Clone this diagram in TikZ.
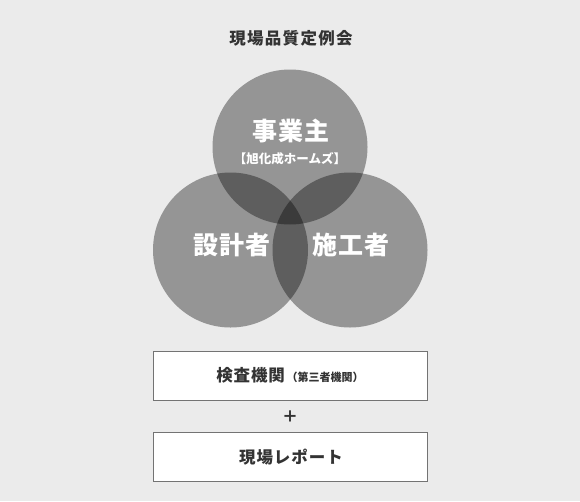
\documentclass[tikz,border=0pt]{standalone}
\usepackage{fontspec}
\setmainfont{Noto Sans CJK JP}
\begin{document}
\begin{tikzpicture}[x=1pt,y=-1pt,
  venn/.style={circle,fill=black,fill opacity=0.366,minimum size=155pt,inner sep=0pt},
  vlabel/.style={text=white,font=\fontsize{25}{25}\selectfont\bfseries\addfontfeature{LetterSpace=5},inner sep=0pt},
  infobox/.style={draw=black!55,line width=0.8pt,fill=white,minimum width=274pt,minimum height=49pt,inner sep=0pt},
  boxtext/.style={text=black!80,inner sep=0pt}]
\fill[fill={rgb,255:red,235;green,235;blue,235}] (0,0) rectangle (580,501);
\useasboundingbox (0,0) rectangle (580,501);
\node[text=black!80,font=\fontsize{16.5}{16.5}\selectfont\bfseries\addfontfeature{LetterSpace=8},inner sep=0pt] (title) at (291,38) {現場品質定例会};
\node[venn] (top) at (290,147) {};
\node[venn] (left) at (230.5,250) {};
\node[venn] (right) at (350,250) {};
\node[vlabel] (toplbl) at (291,131) {事業主};
\node[text=white,font=\fontsize{12.5}{12.5}\selectfont\bfseries,inner sep=0pt] (topsub) at (290,159) {【旭化成ホームズ】};
\node[vlabel] (leftlbl) at (232,245) {設計者};
\node[vlabel] (rightlbl) at (351,245) {施工者};
\node[infobox] (box1) at (290,375.5) {};
\node[boxtext] (b1) at (290,375.5) {{\fontsize{16.5}{16.5}\selectfont\bfseries\addfontfeature{LetterSpace=5}検査機関}\,{\fontsize{11}{11}\selectfont\bfseries （第三者機関）}};
\node[text=black!80,font=\fontsize{16}{16}\selectfont\bfseries,inner sep=0pt] (plus) at (290,417) {＋};
\node[infobox] (box2) at (290,456.5) {};
\node[boxtext,font=\fontsize{16.5}{16.5}\selectfont\bfseries\addfontfeature{LetterSpace=6}] (b2) at (291,457) {現場レポート};
\end{tikzpicture}
\end{document}
